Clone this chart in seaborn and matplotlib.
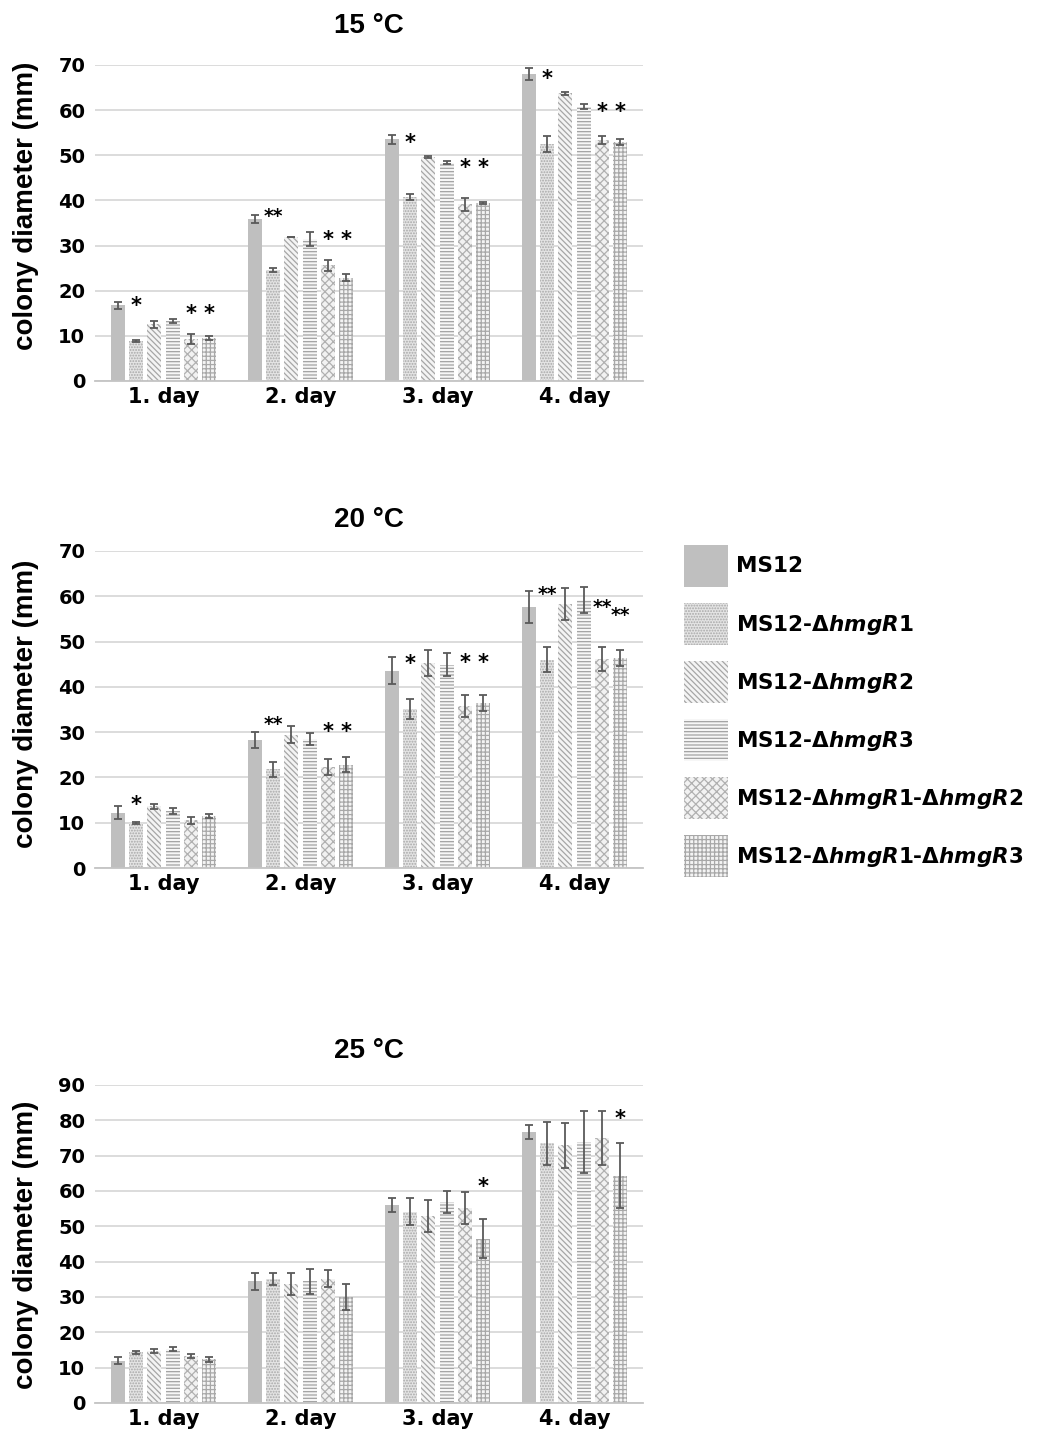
import numpy as np
import pandas as pd
import matplotlib
matplotlib.use("Agg")
import matplotlib.pyplot as plt
import seaborn as sns
from matplotlib.patches import Patch

# ---------------- data ----------------
days = ["1. day", "2. day", "3. day", "4. day"]
strains = ["MS12", "MS12-ΔhmgR1", "MS12-ΔhmgR2", "MS12-ΔhmgR3",
           "MS12-ΔhmgR1-ΔhmgR2", "MS12-ΔhmgR1-ΔhmgR3"]
legend_labels = ["MS12",
                 r"MS12-Δ$\mathit{hmgR1}$",
                 r"MS12-Δ$\mathit{hmgR2}$",
                 r"MS12-Δ$\mathit{hmgR3}$",
                 r"MS12-Δ$\mathit{hmgR1}$-Δ$\mathit{hmgR2}$",
                 r"MS12-Δ$\mathit{hmgR1}$-Δ$\mathit{hmgR3}$"]
titles = ["15 °C", "20 °C", "25 °C"]

# rows: strains (order above), columns: days
mean_15 = [[16.8, 35.9, 53.5, 68.0],
           [8.9, 24.6, 40.8, 52.5],
           [12.6, 31.9, 49.6, 63.7],
           [13.3, 31.4, 48.4, 60.8],
           [9.4, 25.6, 39.1, 53.4],
           [9.5, 22.9, 39.4, 52.9]]
err_15 = [[0.8, 0.8, 0.9, 1.4],
          [0.2, 0.4, 0.6, 1.8],
          [0.8, 0.1, 0.3, 0.3],
          [0.5, 1.6, 0.3, 0.6],
          [1.1, 1.2, 1.5, 0.9],
          [0.4, 0.7, 0.3, 0.6]]
mean_20 = [[12.2, 28.2, 43.6, 57.6],
           [9.9, 21.8, 35.2, 46.0],
           [13.6, 29.4, 45.3, 58.3],
           [12.6, 28.5, 44.9, 59.1],
           [10.5, 22.3, 35.8, 46.2],
           [11.5, 22.8, 36.4, 46.4]]
err_20 = [[1.4, 1.8, 3.0, 3.5],
          [0.2, 1.7, 2.2, 2.7],
          [0.5, 1.9, 2.8, 3.5],
          [0.7, 1.4, 2.5, 2.9],
          [0.8, 1.8, 2.5, 2.6],
          [0.4, 1.7, 1.8, 1.8]]
mean_25 = [[12.0, 34.4, 56.0, 76.7],
           [14.3, 35.2, 54.1, 73.5],
           [14.7, 33.7, 52.9, 72.9],
           [15.2, 34.4, 56.9, 73.8],
           [13.4, 35.2, 55.2, 75.0],
           [12.4, 30.0, 46.5, 64.3]]
err_25 = [[0.9, 2.4, 2.0, 1.9],
          [0.5, 1.7, 3.8, 6.0],
          [0.6, 3.0, 4.5, 6.3],
          [0.6, 3.6, 3.2, 8.8],
          [0.6, 2.5, 4.5, 7.7],
          [0.7, 3.6, 5.5, 9.2]]
ymax = [70, 70, 90]

# significance marks: day index, strain index, text, height (data units)
star15_day = [0, 0, 0, 1, 1, 1, 2, 2, 2, 3, 3, 3]
star15_strain = [1, 4, 5, 1, 4, 5, 1, 4, 5, 1, 4, 5]
star15_text = ["*", "*", "*", "**", "*", "*", "*", "*", "*", "*", "*", "*"]
star15_y = [17.9, 16.1, 16.1, 37.9, 32.5, 32.5, 54.1, 48.4, 48.4, 68.2, 60.9, 60.9]
star20_day = [0, 1, 1, 1, 2, 2, 2, 3, 3, 3]
star20_strain = [1, 1, 4, 5, 1, 4, 5, 1, 4, 5]
star20_text = ["*", "**", "*", "*", "*", "*", "*", "**", "**", "**"]
star20_y = [15.3, 33.1, 31.3, 31.3, 46.4, 46.6, 46.6, 61.7, 58.9, 57.2]
star25_day = [2, 3]
star25_strain = [5, 5]
star25_text = ["*", "*"]
star25_y = [62.8, 82.0]

# ---------------- style ----------------
sns.set_theme(style="white")
plt.rcParams["font.family"] = ["DejaVu Sans"]
plt.rcParams["font.weight"] = "bold"
plt.rcParams["text.color"] = "black"
plt.rcParams["axes.labelcolor"] = "black"
plt.rcParams["xtick.color"] = "black"
plt.rcParams["ytick.color"] = "black"
plt.rcParams["mathtext.fontset"] = "custom"
plt.rcParams["mathtext.rm"] = "DejaVu Sans:bold"
plt.rcParams["mathtext.it"] = "DejaVu Sans:italic:bold"
plt.rcParams["mathtext.bf"] = "DejaVu Sans:bold"
plt.rcParams["hatch.linewidth"] = 0.9

face_cols = ["#bfbfbf", "#e4e4e4", "#f4f4f4", "#f6f6f6", "#f2f2f2", "#f4f4f4"]
hatch_cols = ["#bfbfbf", "#a8a8a8", "#a6a6a6", "#a2a2a2", "#b0b0b0", "#a8a8a8"]
hatches = [None, "......", "\\\\\\\\\\\\", "-----", "xxxx", "++++"]

fig = plt.figure(figsize=(10.48, 14.36), dpi=100)
W, H = 1048, 1436
ax_px = [(95, 65, 643, 381), (95, 551, 643, 868), (95, 1085, 643, 1403)]
title_pads = [23, 17, 19.5]
ylabel_cy = [206, 704, 1245]

all_means = [mean_15, mean_20, mean_25]
all_errs = [err_15, err_20, err_25]
all_stars = [(star15_day, star15_strain, star15_text, star15_y),
             (star20_day, star20_strain, star20_text, star20_y),
             (star25_day, star25_strain, star25_text, star25_y)]

group_w = 0.8
pitch = group_w / len(strains)

for k in range(3):
    l, t, r, b = ax_px[k]
    ax = fig.add_axes([l / W, 1 - b / H, (r - l) / W, (b - t) / H])
    rows = []
    for si, s in enumerate(strains):
        for di, d in enumerate(days):
            rows.append({"day": d, "strain": s, "value": all_means[k][si][di]})
    df = pd.DataFrame(rows)
    sns.barplot(data=df, x="day", y="value", hue="strain", order=days,
                hue_order=strains, palette=face_cols, errorbar=None,
                width=group_w, gap=0.23, saturation=1, legend=False, ax=ax)

    ex, ey, ee = [], [], []
    centers = {}
    for p in ax.patches:
        cx = p.get_x() + p.get_width() / 2
        di = int(round(cx))
        si = int(round((cx - di) / pitch + 2.5))
        centers[(di, si)] = cx
        p.set_facecolor(face_cols[si])
        p.set_edgecolor(hatch_cols[si])
        p.set_linewidth(0)
        if hatches[si]:
            p.set_hatch(hatches[si])
        ex.append(cx)
        ey.append(p.get_height())
        ee.append(all_errs[k][si][di])
    ax.errorbar(ex, ey, yerr=ee, fmt="none", ecolor="#5a5a5a",
                elinewidth=1.3, capsize=3, capthick=1.3, zorder=5)

    sd, ss, st, sy = all_stars[k]
    for di, si, txt, yv in zip(sd, ss, st, sy):
        fs = 15 if len(txt) == 1 else 13.5
        ax.annotate(txt, xy=(centers[(di, si)], yv), xytext=(0, -8.5),
                    textcoords="offset points", ha="center", va="baseline",
                    fontsize=fs, fontweight="bold", color="black", zorder=6)

    ax.set_ylim(0, ymax[k])
    ax.set_xlim(-0.5, 3.5)
    ax.set_yticks(np.arange(0, ymax[k] + 1, 10))
    ax.yaxis.grid(True, color="#d9d9d9", lw=1.3)
    ax.xaxis.grid(False)
    ax.set_axisbelow(True)
    for sp in ["top", "right", "left"]:
        ax.spines[sp].set_visible(False)
    ax.spines["bottom"].set_color("#c4c4c4")
    ax.spines["bottom"].set_linewidth(1.3)
    ax.tick_params(axis="y", length=0, pad=7, labelsize=14)
    ax.tick_params(axis="x", length=0, pad=4, labelsize=15)
    for lab in ax.get_xticklabels() + ax.get_yticklabels():
        lab.set_fontweight("bold")
        lab.set_color("black")
    ax.set_xlabel("")
    ax.set_ylabel("")
    ax.set_title(titles[k], fontsize=20, fontweight="bold", color="black",
                 family=["Liberation Sans", "DejaVu Sans"], pad=title_pads[k])
    fig.text(26 / W, 1 - ylabel_cy[k] / H, "colony diameter (mm)", rotation=90,
             ha="center", va="center", fontsize=20, fontweight="bold",
             color="black", family=["Liberation Sans", "DejaVu Sans"])

handles = [Patch(facecolor=face_cols[i], edgecolor=hatch_cols[i], linewidth=0,
                 hatch=hatches[i]) for i in range(len(strains))]
fig.legend(handles, legend_labels, loc="upper left",
           bbox_to_anchor=(684 / W, 1 - 545 / H), frameon=False,
           prop={"family": "DejaVu Sans", "weight": "bold", "size": 15.5},
           labelcolor="black",
           handlelength=2.05, handleheight=2.62, labelspacing=0.75,
           handletextpad=0.35, borderpad=0, borderaxespad=0)

fig.savefig("out.png", dpi=100)
